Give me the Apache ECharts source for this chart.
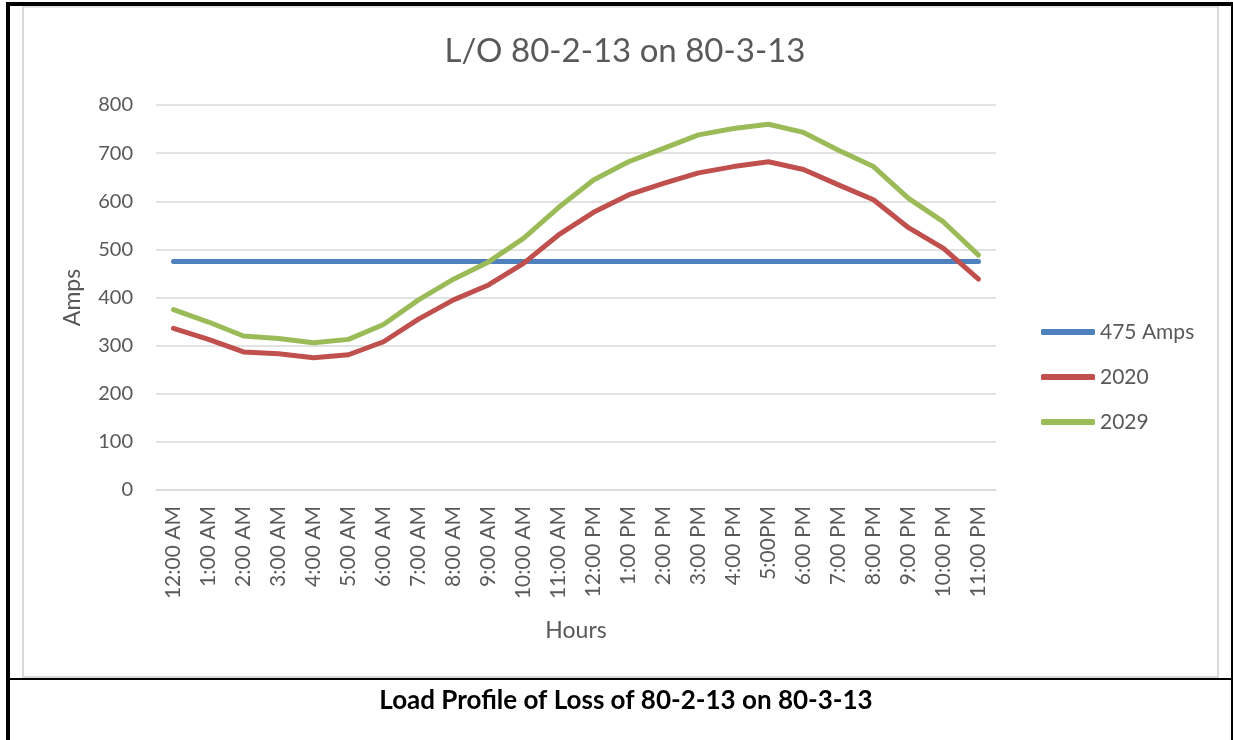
<!DOCTYPE html>
<html>
<head>
<meta charset="utf-8">
<title>Load Profile</title>
<script src="https://cdn.jsdelivr.net/npm/echarts@6/dist/echarts.min.js"></script>
<style>
  html, body { margin: 0; padding: 0; background: #fff; }
  #main { width: 1233px; height: 740px; }
</style>
</head>
<body>
<div id="main"></div>
<script>
// x軸的時間
var hours = ['12:00 AM', '1:00 AM', '2:00 AM', '3:00 AM', '4:00 AM', '5:00 AM', '6:00 AM', '7:00 AM',
  '8:00 AM', '9:00 AM', '10:00 AM', '11:00 AM', '12:00 PM', '1:00 PM', '2:00 PM', '3:00 PM',
  '4:00 PM', '5:00PM', '6:00 PM', '7:00 PM', '8:00 PM', '9:00 PM', '10:00 PM', '11:00 PM']

// 額定電流
var amps475 = [475, 475, 475, 475, 475, 475, 475, 475, 475, 475, 475, 475,
  475, 475, 475, 475, 475, 475, 475, 475, 475, 475, 475, 475]

var load2020 = [336, 313, 287, 283, 275, 281, 308, 355, 395, 426, 471, 530,
  577, 613, 637, 659, 672, 682, 666, 634, 603, 545, 502, 438]

var load2029 = [375, 349, 320, 315, 306, 313, 344, 395, 438, 474, 523, 587,
  644, 682, 710, 738, 751, 760, 743, 706, 672, 606, 557, 488]

var yTicks = { min: 0, max: 800, interval: 100 }

var font = 'Lato'
var grey = '#595959'
var gridGrey = '#D9D9D9'

var chart = echarts.init(document.getElementById('main'), null, { renderer: 'canvas' })

function lineSeries(name, data, color) {
  return {
    name: name,
    type: 'line',
    data: data,
    symbol: 'none',
    smooth: false,
    itemStyle: { color: color },
    lineStyle: { width: 5, color: color, cap: 'round', join: 'round' },
    emphasis: { disabled: true }
  }
}

chart.setOption({
  animation: false,
  backgroundColor: '#fff',
  title: [
    {
      text: 'L/O 80-2-13 on 80-3-13',
      left: 620,
      textAlign: 'center',
      top: 30,
      textStyle: { fontFamily: font, fontSize: 33, fontWeight: 'normal', color: grey }
    },
    {
      // 圖下方的說明文字
      text: 'Load Profile of Loss of 80-2-13 on 80-3-13',
      left: 621,
      textAlign: 'center',
      top: 683,
      textStyle: { fontFamily: font, fontSize: 26, fontWeight: 'bold', color: '#000' }
    }
  ],
  legend: {
    orient: 'vertical',
    left: 1036,
    top: 315,
    itemWidth: 54,
    itemHeight: 6,
    itemGap: 21,
    icon: 'roundRect',
    textStyle: { fontFamily: font, fontSize: 21, color: grey, lineHeight: 24 },
    data: ['475 Amps', '2020', '2029']
  },
  grid: {
    left: 156,
    right: 237,
    top: 105,
    bottom: 250
  },
  xAxis: {
    type: 'category',
    data: hours,
    boundaryGap: true,
    name: 'Hours',
    nameLocation: 'middle',
    nameGap: 129,
    nameTextStyle: { fontFamily: font, fontSize: 23, color: grey },
    axisLine: { lineStyle: { color: gridGrey, width: 1.5 } },
    axisTick: { show: false },
    axisLabel: {
      rotate: 90,
      interval: 0,
      margin: 16,
      fontFamily: font,
      fontSize: 21,
      color: grey
    }
  },
  yAxis: {
    type: 'value',
    min: yTicks.min,
    max: yTicks.max,
    interval: yTicks.interval,
    name: 'Amps',
    nameLocation: 'middle',
    nameGap: 72,
    nameRotate: 90,
    nameTextStyle: { fontFamily: font, fontSize: 23, color: grey },
    axisLine: { show: false },
    axisTick: { show: false },
    axisLabel: { margin: 23, fontFamily: font, fontSize: 20, color: grey },
    splitLine: { lineStyle: { color: gridGrey, width: 1.5 } }
  },
  series: [
    lineSeries('475 Amps', amps475, '#4F81BD'),
    lineSeries('2020', load2020, '#C0504D'),
    lineSeries('2029', load2029, '#9BBB59')
  ],
  // 外框：黑色粗框和灰色圖表框
  graphic: [
    { type: 'rect', silent: true, shape: { x: 23, y: 6.5, width: 1195, height: 670.5 },
      style: { fill: 'none', stroke: gridGrey, lineWidth: 2 } },
    { type: 'rect', silent: true, shape: { x: 6, y: 2, width: 1227, height: 4 }, style: { fill: '#000' } },
    { type: 'rect', silent: true, shape: { x: 6, y: 2, width: 4, height: 738 }, style: { fill: '#000' } },
    { type: 'rect', silent: true, shape: { x: 1231, y: 2, width: 2, height: 738 }, style: { fill: '#000' } },
    { type: 'rect', silent: true, shape: { x: 6, y: 678, width: 1227, height: 2 }, style: { fill: '#000' } }
  ]
})
</script>
</body>
</html>
